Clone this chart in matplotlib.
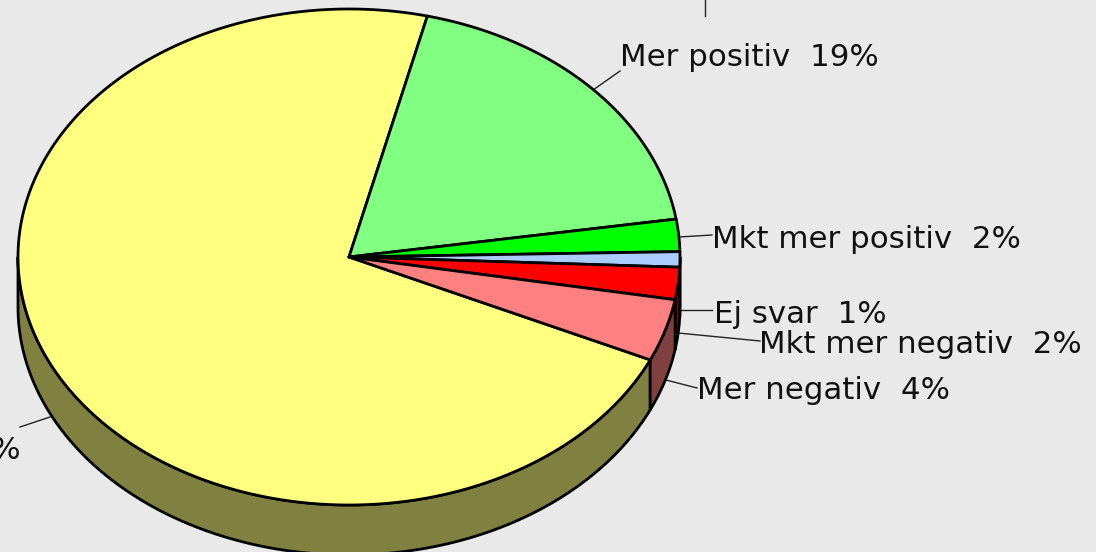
import numpy as np
import matplotlib
matplotlib.use("Agg")
import matplotlib.pyplot as plt

labels = ["Ingen skillnad", "Mer positiv", "Mkt mer positiv", "Ej svar", "Mkt mer negativ", "Mer negativ"]
values = [72, 18.75, 2.1, 1, 2.1, 4.05]
top_colors = ["#FFFF80", "#80FF80", "#00FF00", "#AACCFF", "#FF0000", "#FF8080"]
side_colors = ["#808040", "#408040", "#008000", "#556680", "#800000", "#804040"]

W, H = 1096, 552
CX, CY, RX, RY, DEPTH = 349, 257, 331, 248, 50
START = 76.3 - 360 + 72 * 3.6  # edge between the first slice and the last
LW = 2.0

fig = plt.figure(figsize=(W / 100, H / 100), dpi=100, facecolor="#E9E9E9")
ax = fig.add_axes([0, 0, 1, 1])
ax.set_xlim(0, W)
ax.set_ylim(H, 0)
ax.axis("off")


def rim(a0, a1, dy=0):
    t = np.radians(np.linspace(a0, a1, max(int(abs(a1 - a0) * 2), 2)))
    return CX + RX * np.cos(t), CY - RY * np.sin(t) + dy


# slice angle ranges, running clockwise from the first slice's end
total = sum(values)
spans = np.array(values) * 360 / total
ends = START - np.cumsum(spans)
starts = ends + spans

# side walls: only the front half (angles in -180..0) can be seen
for a0, a1, c in zip(starts, ends, side_colors):
    for shift in (0, -360, 360):
        hi, lo = min(a0 + shift, 0), max(a1 + shift, -180)
        if hi > lo:
            x0, y0 = rim(hi, lo)
            x1, y1 = rim(lo, hi, DEPTH)
            ax.fill(np.r_[x0, x1], np.r_[y0, y1], facecolor=c, edgecolor="black",
                    lw=LW, joinstyle="round", zorder=2)

# top faces
for a0, a1, c in zip(starts, ends, top_colors):
    x, y = rim(a0, a1)
    ax.fill(np.r_[CX, x], np.r_[CY, y], facecolor=c, edgecolor="black",
            lw=LW, joinstyle="round", zorder=3)

# leader lines
leaders = [((593, 90), (620, 71)), ((679, 237), (712, 235)), ((680, 310), (712, 310)),
           ((678, 333), (760, 341)), ((666, 380), (697, 388)), ((20, 427), (50, 417)),
           ((705, 0), (705, 16))]
for p, q in leaders:
    ax.plot([p[0], q[0]], [p[1], q[1]], color="#222222", lw=1.0, zorder=1)

# labels
label_pos = {1: (620, 66), 2: (712, 248), 3: (714, 323), 4: (759, 353), 5: (697, 399)}
FS = 22.2
for i, (x, y) in label_pos.items():
    ax.text(x, y, f"{labels[i]}  {values[i]:.0f}%", fontsize=FS, family="DejaVu Sans",
            color="#111111", ha="left", va="baseline", zorder=4)
ax.text(21, 459, f"{values[0]:.0f}%", fontsize=FS, family="DejaVu Sans",
        color="#111111", ha="right", va="baseline", zorder=4)

fig.savefig("out.png", dpi=100, facecolor=fig.get_facecolor())
